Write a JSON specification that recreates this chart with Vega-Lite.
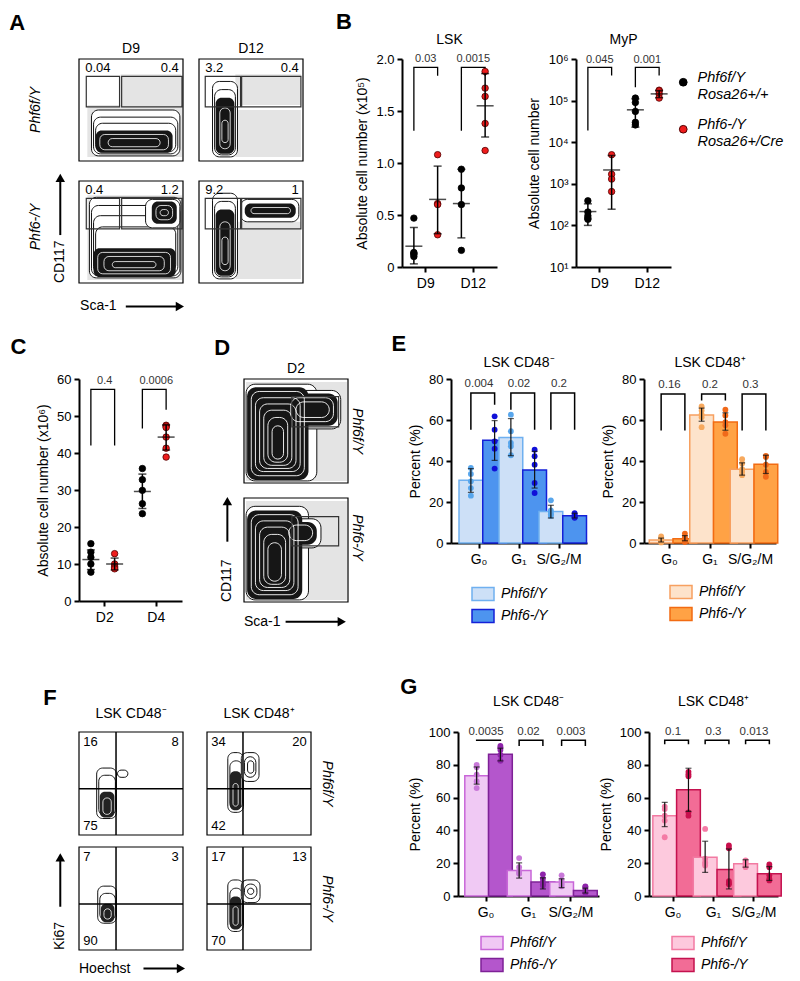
{
"$schema": "https://vega.github.io/schema/vega-lite/v6.json",
"background": "white",
"padding": {"left": 6, "top": 11, "right": 2, "bottom": 2},
"config": {
  "font": "Liberation Sans",
  "view": {"stroke": null},
  "axis": {"grid": false, "domainColor": "#000", "tickColor": "#000", "labelColor": "#000", "titleColor": "#000", "domainWidth": 2, "tickWidth": 2, "tickSize": 5, "labelFontSize": 13, "titleFontSize": 14, "titleFontWeight": "normal", "labelPadding": 3, "titlePadding": 6},
  "legend": {"labelColor": "#000", "padding": 0},
  "header": {"labelFontSize": 14, "labelColor": "#000"},
  "title": {"color": "#000"}
},
"spacing": 46,
"resolve": {"scale": {"fill": "independent", "stroke": "independent", "color": "independent"}, "legend": {"fill": "independent", "stroke": "independent", "color": "independent"}},
"vconcat": [
{
"spacing": 19,
"resolve": {"scale": {"fill": "independent", "stroke": "independent", "color": "independent"}, "legend": {"fill": "independent", "stroke": "independent", "color": "independent"}},
"vconcat": [
{
"spacing": 31,
"align": "none",
"resolve": {"scale": {"fill": "independent", "stroke": "independent", "color": "independent"}, "legend": {"fill": "independent", "stroke": "independent", "color": "independent"}},
"concat": [
{
  "title": {"text": "A", "fontSize": 22, "fontWeight": "bold", "anchor": "start", "frame": "bounds", "baseline": "alphabetic", "offset": -10, "dx": -20},
  "data": {"values": [
    {"r":"1","c":"D9","k":"frame","x":0,"x2":100,"y":0,"y2":100},
    {"r":"1","c":"D9","k":"cloud","x":8,"x2":99,"y":4,"y2":55},
    {"r":"1","c":"D9","k":"cloud","x":40,"x2":98,"y":55,"y2":85},
    {"r":"1","c":"D9","k":"ring","x":12,"x2":97,"y":5,"y2":50},
    {"r":"1","c":"D9","k":"ring","x":14,"x2":95,"y":7,"y2":43},
    {"r":"1","c":"D9","k":"ring","x":16,"x2":93,"y":9,"y2":37},
    {"r":"1","c":"D9","k":"core","x":16,"x2":90,"y":8,"y2":30},
    {"r":"1","c":"D9","k":"wring","x":20,"x2":86,"y":11,"y2":26},
    {"r":"1","c":"D9","k":"wring","x":28,"x2":78,"y":14,"y2":22},
    {"r":"1","c":"D9","k":"gate","x":7,"x2":39,"y":53,"y2":83},
    {"r":"1","c":"D9","k":"gate","x":41,"x2":99,"y":53,"y2":83},
    {"r":"1","c":"D9","k":"numL","x":6,"y":91,"t":"0.04"},
    {"r":"1","c":"D9","k":"numR","x":96,"y":91,"t":"0.4"},
    {"r":"1","c":"D9","k":"rlabL","x":-41,"y":50,"t":"Phf6f/Y"},
    {"r":"1","c":"D12","k":"frame","x":0,"x2":100,"y":0,"y2":100},
    {"r":"1","c":"D12","k":"cloud","x":35,"x2":98,"y":55,"y2":85},
    {"r":"1","c":"D12","k":"cloud","x":35,"x2":98,"y":4,"y2":50},
    {"r":"1","c":"D12","k":"ring","x":13,"x2":37,"y":4,"y2":78},
    {"r":"1","c":"D12","k":"ring","x":15,"x2":35,"y":6,"y2":70},
    {"r":"1","c":"D12","k":"core","x":16,"x2":34,"y":7,"y2":62},
    {"r":"1","c":"D12","k":"wring","x":20,"x2":30,"y":12,"y2":52},
    {"r":"1","c":"D12","k":"wring","x":22,"x2":28,"y":18,"y2":40},
    {"r":"1","c":"D12","k":"gate","x":6,"x2":40,"y":53,"y2":83},
    {"r":"1","c":"D12","k":"gate","x":41,"x2":98,"y":53,"y2":83},
    {"r":"1","c":"D12","k":"numL","x":6,"y":91,"t":"3.2"},
    {"r":"1","c":"D12","k":"numR","x":96,"y":91,"t":"0.4"},
    {"r":"2","c":"D9","k":"frame","x":0,"x2":100,"y":0,"y2":100},
    {"r":"2","c":"D9","k":"cloud","x":8,"x2":99,"y":3,"y2":86},
    {"r":"2","c":"D9","k":"ring","x":10,"x2":98,"y":5,"y2":84},
    {"r":"2","c":"D9","k":"ring","x":12,"x2":97,"y":7,"y2":76},
    {"r":"2","c":"D9","k":"ring","x":14,"x2":95,"y":9,"y2":66},
    {"r":"2","c":"D9","k":"ring","x":16,"x2":93,"y":11,"y2":55},
    {"r":"2","c":"D9","k":"ring","x":64,"x2":97,"y":54,"y2":82},
    {"r":"2","c":"D9","k":"core","x":14,"x2":93,"y":6,"y2":34},
    {"r":"2","c":"D9","k":"core","x":70,"x2":94,"y":58,"y2":80},
    {"r":"2","c":"D9","k":"wring","x":18,"x2":88,"y":9,"y2":30},
    {"r":"2","c":"D9","k":"wring","x":24,"x2":82,"y":12,"y2":26},
    {"r":"2","c":"D9","k":"wring","x":32,"x2":74,"y":15,"y2":21},
    {"r":"2","c":"D9","k":"wring","x":74,"x2":90,"y":62,"y2":76},
    {"r":"2","c":"D9","k":"wring","x":78,"x2":86,"y":66,"y2":72},
    {"r":"2","c":"D9","k":"gate","x":7,"x2":39,"y":53,"y2":83},
    {"r":"2","c":"D9","k":"gate","x":41,"x2":99,"y":53,"y2":83},
    {"r":"2","c":"D9","k":"numL","x":6,"y":91,"t":"0.4"},
    {"r":"2","c":"D9","k":"numR","x":96,"y":91,"t":"1.2"},
    {"r":"2","c":"D9","k":"rlabL","x":-41,"y":55,"t":"Phf6-/Y"},
    {"r":"2","c":"D9","k":"ylab","x":-18,"y":0,"t":"CD117"},
    {"r":"2","c":"D9","k":"arrow","x":-18,"x2":-18,"y":47,"y2":100},
    {"r":"2","c":"D9","k":"headU","x":-18,"y":103},
    {"r":"2","c":"D9","k":"xlab","x":1,"y":-23,"t":"Sca-1"},
    {"r":"2","c":"D9","k":"arrow","x":45,"x2":95,"y":-23,"y2":-23},
    {"r":"2","c":"D9","k":"headR","x":97,"y":-23},
    {"r":"2","c":"D12","k":"frame","x":0,"x2":100,"y":0,"y2":100},
    {"r":"2","c":"D12","k":"cloud","x":35,"x2":98,"y":4,"y2":60},
    {"r":"2","c":"D12","k":"ring","x":13,"x2":37,"y":4,"y2":88},
    {"r":"2","c":"D12","k":"ring","x":15,"x2":35,"y":6,"y2":80},
    {"r":"2","c":"D12","k":"ring","x":40,"x2":96,"y":60,"y2":82},
    {"r":"2","c":"D12","k":"core","x":16,"x2":34,"y":7,"y2":72},
    {"r":"2","c":"D12","k":"core","x":44,"x2":93,"y":64,"y2":78},
    {"r":"2","c":"D12","k":"wring","x":20,"x2":30,"y":12,"y2":60},
    {"r":"2","c":"D12","k":"wring","x":22,"x2":28,"y":18,"y2":45},
    {"r":"2","c":"D12","k":"wring","x":50,"x2":88,"y":68,"y2":74},
    {"r":"2","c":"D12","k":"gate","x":6,"x2":40,"y":53,"y2":83},
    {"r":"2","c":"D12","k":"gate","x":41,"x2":98,"y":53,"y2":83},
    {"r":"2","c":"D12","k":"numL","x":6,"y":91,"t":"9.2"},
    {"r":"2","c":"D12","k":"numR","x":96,"y":91,"t":"1"}
  ]},
  "facet": {
    "column": {"field": "c", "type": "nominal", "sort": ["D9", "D12"], "title": null, "header": {"labelPadding": 3, "labelFontSize": 14}},
    "row": {"field": "r", "type": "nominal", "sort": ["1", "2"], "title": null, "header": null}
  },
  "spacing": {"row": 20, "column": 16},
  "bounds": "flush",
  "resolve": {"axis": {"x": "independent", "y": "independent"}},
  "spec": {
    "width": 104, "height": 102,
    "layer": [
      {"transform":[{"filter":"datum.k=='cloud'"}],"mark":{"type":"rect","fill":"#c4c4c4","opacity":0.45},"encoding":{"x":{"field":"x","type":"quantitative","scale":{"domain":[0,100],"nice":false,"zero":false},"axis":null},"x2":{"field":"x2"},"y":{"field":"y","type":"quantitative","scale":{"domain":[0,100],"nice":false,"zero":false},"axis":null},"y2":{"field":"y2"}}},
      {"transform":[{"filter":"datum.k=='ring'"}],"mark":{"type":"rect","fill":"#ffffff","stroke":"#111111","strokeWidth":1,"cornerRadius":7},"encoding":{"x":{"field":"x","type":"quantitative","axis":null},"x2":{"field":"x2"},"y":{"field":"y","type":"quantitative","axis":null},"y2":{"field":"y2"}}},
      {"transform":[{"filter":"datum.k=='core'"}],"mark":{"type":"rect","fill":"#161616","cornerRadius":6},"encoding":{"x":{"field":"x","type":"quantitative","axis":null},"x2":{"field":"x2"},"y":{"field":"y","type":"quantitative","axis":null},"y2":{"field":"y2"}}},
      {"transform":[{"filter":"datum.k=='wring'"}],"mark":{"type":"rect","fill":"transparent","stroke":"#ffffff","strokeWidth":0.8,"cornerRadius":5},"encoding":{"x":{"field":"x","type":"quantitative","axis":null},"x2":{"field":"x2"},"y":{"field":"y","type":"quantitative","axis":null},"y2":{"field":"y2"}}},
      {"transform":[{"filter":"datum.k=='gate'"}],"mark":{"type":"rect","fill":"transparent","stroke":"#333333","strokeWidth":1.2},"encoding":{"x":{"field":"x","type":"quantitative","axis":null},"x2":{"field":"x2"},"y":{"field":"y","type":"quantitative","axis":null},"y2":{"field":"y2"}}},
      {"transform":[{"filter":"datum.k=='frame'"}],"mark":{"type":"rect","fill":"transparent","stroke":"#000000","strokeWidth":1.2},"encoding":{"x":{"field":"x","type":"quantitative","scale":{"domain":[0,100],"nice":false,"zero":false},"axis":{"labels":false,"domain":false,"ticks":true,"tickSize":3,"tickWidth":1,"tickCount":6,"title":null,"grid":false,"tickColor":"#333"}},"x2":{"field":"x2"},"y":{"field":"y","type":"quantitative","scale":{"domain":[0,100],"nice":false,"zero":false},"axis":{"labels":false,"domain":false,"ticks":true,"tickSize":3,"tickWidth":1,"tickCount":6,"title":null,"grid":false,"tickColor":"#333"}},"y2":{"field":"y2"}}},
      {"transform":[{"filter":"datum.k=='numL'"}],"mark":{"type":"text","align":"left","baseline":"middle","fontSize":13},"encoding":{"x":{"field":"x","type":"quantitative","axis":null},"y":{"field":"y","type":"quantitative","axis":null},"text":{"field":"t"}}},
      {"transform":[{"filter":"datum.k=='numR'"}],"mark":{"type":"text","align":"right","baseline":"middle","fontSize":13},"encoding":{"x":{"field":"x","type":"quantitative","axis":null},"y":{"field":"y","type":"quantitative","axis":null},"text":{"field":"t"}}},
      {"transform":[{"filter":"datum.k=='rlabL'"}],"mark":{"type":"text","angle":270,"align":"center","baseline":"middle","fontSize":14,"fontStyle":"italic"},"encoding":{"x":{"field":"x","type":"quantitative","axis":null},"y":{"field":"y","type":"quantitative","axis":null},"text":{"field":"t"}}},
      {"transform":[{"filter":"datum.k=='ylab'"}],"mark":{"type":"text","angle":270,"align":"left","baseline":"middle","fontSize":14},"encoding":{"x":{"field":"x","type":"quantitative","axis":null},"y":{"field":"y","type":"quantitative","axis":null},"text":{"field":"t"}}},
      {"transform":[{"filter":"datum.k=='xlab'"}],"mark":{"type":"text","align":"left","baseline":"middle","fontSize":14},"encoding":{"x":{"field":"x","type":"quantitative","axis":null},"y":{"field":"y","type":"quantitative","axis":null},"text":{"field":"t"}}},
      {"transform":[{"filter":"datum.k=='arrow'"}],"mark":{"type":"rule","color":"#000","strokeWidth":2},"encoding":{"x":{"field":"x","type":"quantitative","axis":null},"x2":{"field":"x2"},"y":{"field":"y","type":"quantitative","axis":null},"y2":{"field":"y2"}}},
      {"transform":[{"filter":"datum.k=='headU'"}],"mark":{"type":"point","shape":"triangle-up","filled":true,"color":"#000","size":90,"opacity":1},"encoding":{"x":{"field":"x","type":"quantitative","axis":null},"y":{"field":"y","type":"quantitative","axis":null}}},
      {"transform":[{"filter":"datum.k=='headR'"}],"mark":{"type":"point","shape":"triangle-right","filled":true,"color":"#000","size":90,"opacity":1},"encoding":{"x":{"field":"x","type":"quantitative","axis":null},"y":{"field":"y","type":"quantitative","axis":null}}}
    ]
  }
},
{
  "title": {"text": "B", "fontSize": 22, "fontWeight": "bold", "anchor": "start", "frame": "bounds", "baseline": "alphabetic", "offset": -18, "dx": -20},
  "spacing": 30,
  "resolve": {"scale": {"fill": "independent", "stroke": "independent", "color": "independent"}, "legend": {"fill": "independent", "stroke": "independent", "color": "independent"}},
  "hconcat": [
  {
    "width": 95, "height": 208,
    "title": {"text": "LSK", "fontSize": 14, "fontWeight": "normal", "anchor": "middle", "frame": "group", "baseline": "alphabetic", "offset": -5},
    "encoding": {
      "x": {"field": "day", "type": "nominal", "sort": ["D9", "D12"], "scale": {"paddingInner": 0, "paddingOuter": 0}, "axis": {"title": null, "labelAngle": 0, "labelFontSize": 14, "labelPadding": 4}},
      "y": {"field": "v", "type": "quantitative", "scale": {"domain": [0, 2], "nice": false, "zero": false}, "axis": {"values": [0, 0.5, 1, 1.5, 2], "labelExpr": "datum.value == 0 ? '0' : format(datum.value, '.1f')", "title": "Absolute cell number (x10⁵)"}}
    },
    "layer": [
      {"data": {"values": [
        {"day":"D9","g":"f","v":1.31,"o":1},{"day":"D9","g":"f","v":1.92,"o":2},{"day":"D9","g":"m","v":1.92,"o":3},{"day":"D9","g":"m","v":1.84,"o":4},
        {"day":"D12","g":"f","v":1.31,"o":1},{"day":"D12","g":"f","v":1.92,"o":2},{"day":"D12","g":"m","v":1.92,"o":3},{"day":"D12","g":"m","v":1.84,"o":4}]},
       "mark": {"type": "line", "color": "#000", "strokeWidth": 1.3},
       "encoding": {"xOffset": {"field": "g", "type": "nominal", "sort": ["f", "m"], "scale": {"paddingInner": 0, "paddingOuter": 0}}, "detail": {"field": "day"}, "order": {"field": "o"}}},
      {"data": {"values": [
        {"day":"D9","g":"f","v":0.47},{"day":"D9","g":"f","v":0.14},{"day":"D9","g":"f","v":0.13},{"day":"D9","g":"f","v":0.10},{"day":"D9","g":"f","v":0.12},
        {"day":"D9","g":"m","v":1.08},{"day":"D9","g":"m","v":0.61},{"day":"D9","g":"m","v":0.60},{"day":"D9","g":"m","v":0.31},
        {"day":"D12","g":"f","v":0.94},{"day":"D12","g":"f","v":0.76},{"day":"D12","g":"f","v":0.60},{"day":"D12","g":"f","v":0.16},
        {"day":"D12","g":"m","v":1.88},{"day":"D12","g":"m","v":1.72},{"day":"D12","g":"m","v":1.64},{"day":"D12","g":"m","v":1.38},{"day":"D12","g":"m","v":1.12}]},
       "mark": {"type": "point", "filled": true, "size": 42, "opacity": 1, "strokeWidth": 0.8},
       "encoding": {"xOffset": {"field": "g", "type": "nominal", "sort": ["f", "m"]},
         "fill": {"field": "g", "type": "nominal", "scale": {"domain": ["f", "m"], "range": ["#000000", "#ee1c1c"]}, "legend": null},
         "stroke": {"field": "g", "type": "nominal", "scale": {"domain": ["f", "m"], "range": ["#000000", "#500000"]}, "legend": null}}},
      {"data": {"values": [{"day":"D9","g":"f","m":0.2,"lo":0.03,"hi":0.38},{"day":"D9","g":"m","m":0.65,"lo":0.32,"hi":0.97},{"day":"D12","g":"f","m":0.61,"lo":0.28,"hi":0.94},{"day":"D12","g":"m","m":1.55,"lo":1.25,"hi":1.86}]},
       "layer": [
         {"mark": {"type": "rule", "color": "#000", "strokeWidth": 1.5}, "encoding": {"xOffset": {"field": "g", "type": "nominal", "sort": ["f", "m"]}, "y": {"field": "lo", "type": "quantitative"}, "y2": {"field": "hi"}}},
         {"mark": {"type": "tick", "color": "#000", "size": 8, "thickness": 1.5}, "encoding": {"xOffset": {"field": "g", "type": "nominal", "sort": ["f", "m"]}, "y": {"field": "lo", "type": "quantitative"}}},
         {"mark": {"type": "tick", "color": "#000", "size": 8, "thickness": 1.5}, "encoding": {"xOffset": {"field": "g", "type": "nominal", "sort": ["f", "m"]}, "y": {"field": "hi", "type": "quantitative"}}},
         {"mark": {"type": "tick", "color": "#000", "size": 17, "thickness": 1.5}, "encoding": {"xOffset": {"field": "g", "type": "nominal", "sort": ["f", "m"]}, "y": {"field": "m", "type": "quantitative"}}}
       ]},
      {"data": {"values": [{"day":"D9","v":1.93,"t":"0.03"},{"day":"D12","v":1.93,"t":"0.0015"}]},
       "mark": {"type": "text", "fontSize": 11, "color": "#333", "baseline": "bottom", "dy": -2},
       "encoding": {"text": {"field": "t"}}}
    ]
  },
  {
    "width": 95, "height": 208,
    "title": {"text": "MyP", "fontSize": 14, "fontWeight": "normal", "anchor": "middle", "frame": "group", "baseline": "alphabetic", "offset": -5},
    "encoding": {
      "x": {"field": "day", "type": "nominal", "sort": ["D9", "D12"], "scale": {"paddingInner": 0, "paddingOuter": 0}, "axis": {"title": null, "labelAngle": 0, "labelFontSize": 14, "labelPadding": 4}},
      "y": {"field": "v", "type": "quantitative", "scale": {"type": "log", "domain": [10, 1000000], "nice": false}, "axis": {"values": [10, 100, 1000, 10000, 100000, 1000000], "labelExpr": "datum.value == 10 ? '10¹' : datum.value == 100 ? '10²' : datum.value == 1000 ? '10³' : datum.value == 10000 ? '10⁴' : datum.value == 100000 ? '10⁵' : '10⁶'", "title": "Absolute cell number"}}
    },
    "layer": [
      {"data": {"values": [
        {"day":"D9","g":"f","v":19000,"o":1},{"day":"D9","g":"f","v":630000,"o":2},{"day":"D9","g":"m","v":630000,"o":3},{"day":"D9","g":"m","v":400000,"o":4},
        {"day":"D12","g":"f","v":210000,"o":1},{"day":"D12","g":"f","v":630000,"o":2},{"day":"D12","g":"m","v":630000,"o":3},{"day":"D12","g":"m","v":400000,"o":4}]},
       "mark": {"type": "line", "color": "#000", "strokeWidth": 1.3},
       "encoding": {"xOffset": {"field": "g", "type": "nominal", "sort": ["f", "m"], "scale": {"paddingInner": 0, "paddingOuter": 0}}, "detail": {"field": "day"}, "order": {"field": "o"}}},
      {"data": {"values": [
        {"day":"D9","g":"f","v":390},{"day":"D9","g":"f","v":170},{"day":"D9","g":"f","v":150},{"day":"D9","g":"f","v":140},{"day":"D9","g":"f","v":210},
        {"day":"D9","g":"m","v":5000},{"day":"D9","g":"m","v":1700},{"day":"D9","g":"m","v":1300},{"day":"D9","g":"m","v":650},
        {"day":"D12","g":"f","v":115000},{"day":"D12","g":"f","v":90000},{"day":"D12","g":"f","v":55000},{"day":"D12","g":"f","v":30000},{"day":"D12","g":"f","v":26000},
        {"day":"D12","g":"m","v":178000},{"day":"D12","g":"m","v":172000},{"day":"D12","g":"m","v":145000},{"day":"D12","g":"m","v":115000}]},
       "mark": {"type": "point", "filled": true, "size": 42, "opacity": 1, "strokeWidth": 0.8},
       "encoding": {"xOffset": {"field": "g", "type": "nominal", "sort": ["f", "m"]},
         "fill": {"field": "g", "type": "nominal", "scale": {"domain": ["f", "m"], "range": ["#000000", "#ee1c1c"]},
           "legend": {"orient": "none", "legendX": 100, "legendY": 16, "title": null, "labelExpr": "datum.label == 'f' ? ['Phf6f/Y', 'Rosa26+/+'] : ['Phf6-/Y', 'Rosa26+/Cre']", "labelFontSize": 14.5, "labelFontStyle": "italic", "symbolType": "circle", "symbolSize": 60, "labelBaseline": "alphabetic", "rowPadding": 15, "labelOffset": 7, "symbolStrokeWidth": 1, "labelLimit": 200}},
         "stroke": {"field": "g", "type": "nominal", "scale": {"domain": ["f", "m"], "range": ["#000000", "#500000"]},
           "legend": {"orient": "none", "legendX": 100, "legendY": 16, "title": null, "labelExpr": "datum.label == 'f' ? ['Phf6f/Y', 'Rosa26+/+'] : ['Phf6-/Y', 'Rosa26+/Cre']", "labelFontSize": 14.5, "labelFontStyle": "italic", "symbolType": "circle", "symbolSize": 60, "labelBaseline": "alphabetic", "rowPadding": 15, "labelOffset": 7, "symbolStrokeWidth": 1, "labelLimit": 200}}}},
      {"data": {"values": [{"day":"D9","g":"f","m":215,"lo":100,"hi":330},{"day":"D9","g":"m","m":2150,"lo":245,"hi":4800},{"day":"D12","g":"f","m":60000,"lo":23000,"hi":110000},{"day":"D12","g":"m","m":145000,"lo":118000,"hi":175000}]},
       "layer": [
         {"mark": {"type": "rule", "color": "#000", "strokeWidth": 1.5}, "encoding": {"xOffset": {"field": "g", "type": "nominal", "sort": ["f", "m"]}, "y": {"field": "lo", "type": "quantitative"}, "y2": {"field": "hi"}}},
         {"mark": {"type": "tick", "color": "#000", "size": 8, "thickness": 1.5}, "encoding": {"xOffset": {"field": "g", "type": "nominal", "sort": ["f", "m"]}, "y": {"field": "lo", "type": "quantitative"}}},
         {"mark": {"type": "tick", "color": "#000", "size": 8, "thickness": 1.5}, "encoding": {"xOffset": {"field": "g", "type": "nominal", "sort": ["f", "m"]}, "y": {"field": "hi", "type": "quantitative"}}},
         {"mark": {"type": "tick", "color": "#000", "size": 17, "thickness": 1.5}, "encoding": {"xOffset": {"field": "g", "type": "nominal", "sort": ["f", "m"]}, "y": {"field": "m", "type": "quantitative"}}}
       ]},
      {"data": {"values": [{"day":"D9","v":660000,"t":"0.045"},{"day":"D12","v":660000,"t":"0.001"}]},
       "mark": {"type": "text", "fontSize": 11, "color": "#333", "baseline": "bottom", "dy": -2},
       "encoding": {"text": {"field": "t"}}}
    ]
  }
  ]
}
]
},
{
"spacing": 26,
"align": "none",
"resolve": {"scale": {"fill": "independent", "stroke": "independent", "color": "independent"}, "legend": {"fill": "independent", "stroke": "independent", "color": "independent"}},
"concat": [
{
"spacing": 32,
"align": "none",
"resolve": {"scale": {"fill": "independent", "stroke": "independent", "color": "independent"}, "legend": {"fill": "independent", "stroke": "independent", "color": "independent"}},
"concat": [
{
  "width": 103, "height": 222,
  "title": {"text": "C", "fontSize": 22, "fontWeight": "bold", "anchor": "start", "frame": "bounds", "baseline": "alphabetic", "offset": -3, "dx": -26},
  "encoding": {
    "x": {"field": "day", "type": "nominal", "sort": ["D2", "D4"], "scale": {"paddingInner": 0, "paddingOuter": 0}, "axis": {"title": null, "labelAngle": 0, "labelFontSize": 14, "labelPadding": 4}},
    "y": {"field": "v", "type": "quantitative", "scale": {"domain": [0, 60], "nice": false, "zero": false}, "axis": {"values": [0, 10, 20, 30, 40, 50, 60], "title": "Absolute cell number (x10⁶)"}}
  },
  "layer": [
    {"data": {"values": [
      {"day":"D2","g":"f","v":42,"o":1},{"day":"D2","g":"f","v":57.2,"o":2},{"day":"D2","g":"m","v":57.2,"o":3},{"day":"D2","g":"m","v":42,"o":4},
      {"day":"D4","g":"f","v":46.6,"o":1},{"day":"D4","g":"f","v":57.2,"o":2},{"day":"D4","g":"m","v":57.2,"o":3},{"day":"D4","g":"m","v":51.7,"o":4}]},
     "mark": {"type": "line", "color": "#000", "strokeWidth": 1.3},
     "encoding": {"xOffset": {"field": "g", "type": "nominal", "sort": ["f", "m"], "scale": {"paddingInner": 0, "paddingOuter": 0}}, "detail": {"field": "day"}, "order": {"field": "o"}}},
    {"data": {"values": [
      {"day":"D2","g":"f","v":15.5},{"day":"D2","g":"f","v":13.2},{"day":"D2","g":"f","v":11.8},{"day":"D2","g":"f","v":10.0},{"day":"D2","g":"f","v":7.8},
      {"day":"D2","g":"m","v":12.8},{"day":"D2","g":"m","v":10.0},{"day":"D2","g":"m","v":9.4},{"day":"D2","g":"m","v":9.0},{"day":"D2","g":"m","v":8.7},
      {"day":"D4","g":"f","v":35.8},{"day":"D4","g":"f","v":32.8},{"day":"D4","g":"f","v":29.9},{"day":"D4","g":"f","v":26.3},{"day":"D4","g":"f","v":23.6},
      {"day":"D4","g":"m","v":47.5},{"day":"D4","g":"m","v":47.3},{"day":"D4","g":"m","v":46.9},{"day":"D4","g":"m","v":44.3},{"day":"D4","g":"m","v":41.3},{"day":"D4","g":"m","v":38.9}]},
     "mark": {"type": "point", "filled": true, "size": 42, "opacity": 1, "strokeWidth": 0.8},
     "encoding": {"xOffset": {"field": "g", "type": "nominal", "sort": ["f", "m"]},
       "fill": {"field": "g", "type": "nominal", "scale": {"domain": ["f", "m"], "range": ["#000000", "#ee1c1c"]}, "legend": null},
       "stroke": {"field": "g", "type": "nominal", "scale": {"domain": ["f", "m"], "range": ["#000000", "#500000"]}, "legend": null}}},
    {"data": {"values": [{"day":"D2","g":"f","m":11.2,"lo":8.5,"hi":13.8},{"day":"D2","g":"m","m":10.0,"lo":8.4,"hi":11.6},{"day":"D4","g":"f","m":29.6,"lo":25.0,"hi":34.3},{"day":"D4","g":"m","m":44.3,"lo":40.8,"hi":47.6}]},
     "layer": [
       {"mark": {"type": "rule", "color": "#000", "strokeWidth": 1.5}, "encoding": {"xOffset": {"field": "g", "type": "nominal", "sort": ["f", "m"]}, "y": {"field": "lo", "type": "quantitative"}, "y2": {"field": "hi"}}},
       {"mark": {"type": "tick", "color": "#000", "size": 8, "thickness": 1.5}, "encoding": {"xOffset": {"field": "g", "type": "nominal", "sort": ["f", "m"]}, "y": {"field": "lo", "type": "quantitative"}}},
       {"mark": {"type": "tick", "color": "#000", "size": 8, "thickness": 1.5}, "encoding": {"xOffset": {"field": "g", "type": "nominal", "sort": ["f", "m"]}, "y": {"field": "hi", "type": "quantitative"}}},
       {"mark": {"type": "tick", "color": "#000", "size": 17, "thickness": 1.5}, "encoding": {"xOffset": {"field": "g", "type": "nominal", "sort": ["f", "m"]}, "y": {"field": "m", "type": "quantitative"}}}
     ]},
    {"data": {"values": [{"day":"D2","v":57.6,"t":"0.4"},{"day":"D4","v":57.6,"t":"0.0006"}]},
     "mark": {"type": "text", "fontSize": 11, "color": "#333", "baseline": "bottom", "dy": -2},
     "encoding": {"text": {"field": "t"}}}
  ]
},
{
  "title": {"text": "D", "fontSize": 22, "fontWeight": "bold", "anchor": "start", "frame": "bounds", "baseline": "alphabetic", "offset": -15, "dx": -6},
  "data": {"values": [
    {"r":"1","c":"D2","k":"frame","x":0,"x2":100,"y":0,"y2":100},
    {"r":"1","c":"D2","k":"cloud","x":2,"x2":99,"y":2,"y2":97},
    {"r":"1","c":"D2","k":"ring","x":2,"x2":70,"y":2,"y2":95},
    {"r":"1","c":"D2","k":"ring","x":38,"x2":93,"y":52,"y2":89},
    {"r":"1","c":"D2","k":"core","x":3,"x2":62,"y":3,"y2":92},
    {"r":"1","c":"D2","k":"core","x":40,"x2":90,"y":55,"y2":86},
    {"r":"1","c":"D2","k":"wring","x":7,"x2":58,"y":7,"y2":88},
    {"r":"1","c":"D2","k":"wring","x":11,"x2":54,"y":11,"y2":82},
    {"r":"1","c":"D2","k":"wring","x":15,"x2":50,"y":14,"y2":76},
    {"r":"1","c":"D2","k":"wring","x":19,"x2":46,"y":17,"y2":70},
    {"r":"1","c":"D2","k":"wring","x":23,"x2":42,"y":20,"y2":63},
    {"r":"1","c":"D2","k":"wring","x":27,"x2":38,"y":23,"y2":55},
    {"r":"1","c":"D2","k":"wring","x":45,"x2":86,"y":59,"y2":82},
    {"r":"1","c":"D2","k":"wring","x":50,"x2":82,"y":63,"y2":78},
    {"r":"1","c":"D2","k":"gate","x":46,"x2":91,"y":54,"y2":83},
    {"r":"1","c":"D2","k":"rlabR","x":109,"y":50,"t":"Phf6f/Y"},
    {"r":"2","c":"D2","k":"frame","x":0,"x2":100,"y":0,"y2":100},
    {"r":"2","c":"D2","k":"cloud","x":2,"x2":99,"y":2,"y2":97},
    {"r":"2","c":"D2","k":"ring","x":2,"x2":62,"y":2,"y2":92},
    {"r":"2","c":"D2","k":"ring","x":36,"x2":74,"y":52,"y2":80},
    {"r":"2","c":"D2","k":"core","x":3,"x2":56,"y":3,"y2":88},
    {"r":"2","c":"D2","k":"core","x":38,"x2":70,"y":55,"y2":77},
    {"r":"2","c":"D2","k":"wring","x":7,"x2":52,"y":7,"y2":84},
    {"r":"2","c":"D2","k":"wring","x":11,"x2":48,"y":11,"y2":78},
    {"r":"2","c":"D2","k":"wring","x":15,"x2":44,"y":14,"y2":72},
    {"r":"2","c":"D2","k":"wring","x":19,"x2":40,"y":17,"y2":65},
    {"r":"2","c":"D2","k":"wring","x":23,"x2":36,"y":20,"y2":57},
    {"r":"2","c":"D2","k":"wring","x":43,"x2":66,"y":59,"y2":74},
    {"r":"2","c":"D2","k":"gate","x":46,"x2":91,"y":54,"y2":82},
    {"r":"2","c":"D2","k":"rlabR","x":109,"y":62,"t":"Phf6-/Y"},
    {"r":"2","c":"D2","k":"ylab","x":-16,"y":0,"t":"CD117"},
    {"r":"2","c":"D2","k":"arrow","x":-16,"x2":-16,"y":58,"y2":95},
    {"r":"2","c":"D2","k":"headU","x":-16,"y":97},
    {"r":"2","c":"D2","k":"xlab","x":0,"y":-19,"t":"Sca-1"},
    {"r":"2","c":"D2","k":"arrow","x":40,"x2":92,"y":-19,"y2":-19},
    {"r":"2","c":"D2","k":"headR","x":94,"y":-19}
  ]},
  "facet": {
    "column": {"field": "c", "type": "nominal", "title": null, "header": {"labelPadding": 3, "labelFontSize": 14}},
    "row": {"field": "r", "type": "nominal", "sort": ["1", "2"], "title": null, "header": null}
  },
  "spacing": {"row": 15, "column": 16},
  "bounds": "flush",
  "resolve": {"axis": {"x": "independent", "y": "independent"}},
  "spec": {
    "width": 104, "height": 104,
    "layer": [
      {"transform":[{"filter":"datum.k=='cloud'"}],"mark":{"type":"rect","fill":"#c4c4c4","opacity":0.45},"encoding":{"x":{"field":"x","type":"quantitative","scale":{"domain":[0,100],"nice":false,"zero":false},"axis":null},"x2":{"field":"x2"},"y":{"field":"y","type":"quantitative","scale":{"domain":[0,100],"nice":false,"zero":false},"axis":null},"y2":{"field":"y2"}}},
      {"transform":[{"filter":"datum.k=='ring'"}],"mark":{"type":"rect","fill":"#ffffff","stroke":"#111111","strokeWidth":1,"cornerRadius":9},"encoding":{"x":{"field":"x","type":"quantitative","axis":null},"x2":{"field":"x2"},"y":{"field":"y","type":"quantitative","axis":null},"y2":{"field":"y2"}}},
      {"transform":[{"filter":"datum.k=='core'"}],"mark":{"type":"rect","fill":"#161616","cornerRadius":9},"encoding":{"x":{"field":"x","type":"quantitative","axis":null},"x2":{"field":"x2"},"y":{"field":"y","type":"quantitative","axis":null},"y2":{"field":"y2"}}},
      {"transform":[{"filter":"datum.k=='wring'"}],"mark":{"type":"rect","fill":"transparent","stroke":"#ffffff","strokeWidth":0.9,"cornerRadius":8},"encoding":{"x":{"field":"x","type":"quantitative","axis":null},"x2":{"field":"x2"},"y":{"field":"y","type":"quantitative","axis":null},"y2":{"field":"y2"}}},
      {"transform":[{"filter":"datum.k=='gate'"}],"mark":{"type":"rect","fill":"transparent","stroke":"#333333","strokeWidth":1.2},"encoding":{"x":{"field":"x","type":"quantitative","axis":null},"x2":{"field":"x2"},"y":{"field":"y","type":"quantitative","axis":null},"y2":{"field":"y2"}}},
      {"transform":[{"filter":"datum.k=='frame'"}],"mark":{"type":"rect","fill":"transparent","stroke":"#000000","strokeWidth":1.2},"encoding":{"x":{"field":"x","type":"quantitative","scale":{"domain":[0,100],"nice":false,"zero":false},"axis":{"labels":false,"domain":false,"ticks":true,"tickSize":3,"tickWidth":1,"tickCount":6,"title":null,"grid":false,"tickColor":"#333"}},"x2":{"field":"x2"},"y":{"field":"y","type":"quantitative","scale":{"domain":[0,100],"nice":false,"zero":false},"axis":{"labels":false,"domain":false,"ticks":true,"tickSize":3,"tickWidth":1,"tickCount":6,"title":null,"grid":false,"tickColor":"#333"}},"y2":{"field":"y2"}}},
      {"transform":[{"filter":"datum.k=='rlabR'"}],"mark":{"type":"text","angle":90,"align":"center","baseline":"middle","fontSize":14,"fontStyle":"italic"},"encoding":{"x":{"field":"x","type":"quantitative","axis":null},"y":{"field":"y","type":"quantitative","axis":null},"text":{"field":"t"}}},
      {"transform":[{"filter":"datum.k=='ylab'"}],"mark":{"type":"text","angle":270,"align":"left","baseline":"middle","fontSize":14},"encoding":{"x":{"field":"x","type":"quantitative","axis":null},"y":{"field":"y","type":"quantitative","axis":null},"text":{"field":"t"}}},
      {"transform":[{"filter":"datum.k=='xlab'"}],"mark":{"type":"text","align":"left","baseline":"middle","fontSize":14},"encoding":{"x":{"field":"x","type":"quantitative","axis":null},"y":{"field":"y","type":"quantitative","axis":null},"text":{"field":"t"}}},
      {"transform":[{"filter":"datum.k=='arrow'"}],"mark":{"type":"rule","color":"#000","strokeWidth":2},"encoding":{"x":{"field":"x","type":"quantitative","axis":null},"x2":{"field":"x2"},"y":{"field":"y","type":"quantitative","axis":null},"y2":{"field":"y2"}}},
      {"transform":[{"filter":"datum.k=='headU'"}],"mark":{"type":"point","shape":"triangle-up","filled":true,"color":"#000","size":90,"opacity":1},"encoding":{"x":{"field":"x","type":"quantitative","axis":null},"y":{"field":"y","type":"quantitative","axis":null}}},
      {"transform":[{"filter":"datum.k=='headR'"}],"mark":{"type":"point","shape":"triangle-right","filled":true,"color":"#000","size":90,"opacity":1},"encoding":{"x":{"field":"x","type":"quantitative","axis":null},"y":{"field":"y","type":"quantitative","axis":null}}}
    ]
  }
}
]
},
{
  "title": {"text": "E", "fontSize": 22, "fontWeight": "bold", "anchor": "start", "frame": "bounds", "baseline": "alphabetic", "offset": -17, "dx": -17},
  "spacing": 13,
  "resolve": {"scale": {"fill": "independent", "stroke": "independent", "color": "independent"}, "legend": {"fill": "independent", "stroke": "independent", "color": "independent"}},
  "hconcat": [
  {
    "width": 136, "height": 164,
    "title": {"text": "LSK CD48⁻", "fontSize": 14, "fontWeight": "normal", "anchor": "middle", "frame": "group", "baseline": "alphabetic", "offset": -8},
    "encoding": {
      "x": {"field": "p", "type": "nominal", "sort": ["G₀", "G₁", "S/G₂/M"], "scale": {"paddingInner": 0, "paddingOuter": 0.2}, "axis": {"title": null, "labelAngle": 0, "labelFontSize": 14, "labelPadding": 4}},
      "y": {"field": "v", "type": "quantitative", "scale": {"domain": [0, 80], "nice": false}, "axis": {"values": [0, 20, 40, 60, 80], "title": "Percent (%)"}}
    },
    "layer": [
      {"data": {"values": [{"p":"G₀","g":"f","m":30.6},{"p":"G₀","g":"m","m":50.1},{"p":"G₁","g":"f","m":51.5},{"p":"G₁","g":"m","m":35.6},{"p":"S/G₂/M","g":"f","m":15.4},{"p":"S/G₂/M","g":"m","m":13.3}]},
       "mark": {"type": "bar", "strokeWidth": 1.5},
       "encoding": {"xOffset": {"field": "g", "type": "nominal", "sort": ["f", "m"], "scale": {"paddingInner": 0.3, "paddingOuter": 0.15}}, "y": {"field": "m", "type": "quantitative"},
         "fill": {"field": "g", "type": "nominal", "scale": {"domain": ["f", "m"], "range": ["#cde0f7", "#4d94ef"]}, "legend": {"orient": "none", "legendX": 20, "legendY": 203, "title": null, "direction": "vertical", "symbolType": "M-1,-0.6H1V0.6H-1Z", "symbolSize": 484, "symbolStrokeWidth": 1.5, "labelExpr": "datum.label == 'f' ? 'Phf6f/Y' : 'Phf6-/Y'", "labelFontSize": 14, "labelFontStyle": "italic", "rowPadding": 0, "labelOffset": 6}},
         "stroke": {"field": "g", "type": "nominal", "scale": {"domain": ["f", "m"], "range": ["#6fb0f0", "#1420d8"]}, "legend": {"orient": "none", "legendX": 20, "legendY": 203, "title": null, "direction": "vertical", "symbolType": "M-1,-0.6H1V0.6H-1Z", "symbolSize": 484, "symbolStrokeWidth": 1.5, "labelExpr": "datum.label == 'f' ? 'Phf6f/Y' : 'Phf6-/Y'", "labelFontSize": 14, "labelFontStyle": "italic", "rowPadding": 0, "labelOffset": 6}}}},
      {"data": {"values": [
        {"p":"G₀","g":"f","v":36.6},{"p":"G₀","g":"f","v":33.7},{"p":"G₀","g":"f","v":30.1},{"p":"G₀","g":"f","v":26.8},{"p":"G₀","g":"f","v":23.1},
        {"p":"G₀","g":"m","v":61.8},{"p":"G₀","g":"m","v":55.3},{"p":"G₀","g":"m","v":49.6},{"p":"G₀","g":"m","v":46.0},{"p":"G₀","g":"m","v":36.3},
        {"p":"G₁","g":"f","v":62.6},{"p":"G₁","g":"f","v":54.5},{"p":"G₁","g":"f","v":48.8},{"p":"G₁","g":"f","v":47.2},{"p":"G₁","g":"f","v":42.8},
        {"p":"G₁","g":"m","v":45.5},{"p":"G₁","g":"m","v":42.3},{"p":"G₁","g":"m","v":38.2},{"p":"G₁","g":"m","v":29.3},{"p":"G₁","g":"m","v":24.4},
        {"p":"S/G₂/M","g":"f","v":20.8},{"p":"S/G₂/M","g":"f","v":15.9},{"p":"S/G₂/M","g":"f","v":14.6},{"p":"S/G₂/M","g":"f","v":14.0},{"p":"S/G₂/M","g":"f","v":13.2},
        {"p":"S/G₂/M","g":"m","v":14.6},{"p":"S/G₂/M","g":"m","v":13.8},{"p":"S/G₂/M","g":"m","v":13.2},{"p":"S/G₂/M","g":"m","v":12.8},{"p":"S/G₂/M","g":"m","v":12.3}]},
       "mark": {"type": "point", "filled": true, "size": 34, "opacity": 1},
       "encoding": {"xOffset": {"field": "g", "type": "nominal", "sort": ["f", "m"]}, "color": {"field": "g", "type": "nominal", "scale": {"domain": ["f", "m"], "range": ["#58a6ec", "#1010d8"]}, "legend": null}}},
      {"data": {"values": [{"p":"G₀","g":"f","lo":24.7,"hi":36.3},{"p":"G₀","g":"m","lo":40.3,"hi":59.7},{"p":"G₁","g":"f","lo":42.6,"hi":60.7},{"p":"G₁","g":"m","lo":26.8,"hi":44.7},{"p":"S/G₂/M","g":"f","lo":12.2,"hi":18.4},{"p":"S/G₂/M","g":"m","lo":12.2,"hi":14.5}]},
       "layer": [
         {"mark": {"type": "rule", "color": "#111", "strokeWidth": 1.2}, "encoding": {"xOffset": {"field": "g", "type": "nominal", "sort": ["f", "m"]}, "y": {"field": "lo", "type": "quantitative"}, "y2": {"field": "hi"}}},
         {"mark": {"type": "tick", "color": "#111", "size": 6, "thickness": 1.2}, "encoding": {"xOffset": {"field": "g", "type": "nominal", "sort": ["f", "m"]}, "y": {"field": "lo", "type": "quantitative"}}},
         {"mark": {"type": "tick", "color": "#111", "size": 6, "thickness": 1.2}, "encoding": {"xOffset": {"field": "g", "type": "nominal", "sort": ["f", "m"]}, "y": {"field": "hi", "type": "quantitative"}}}
       ]},
      {"data": {"values": [
        {"p":"G₀","g":"f","v":55.3,"o":1},{"p":"G₀","g":"f","v":73.2,"o":2},{"p":"G₀","g":"m","v":73.2,"o":3},{"p":"G₀","g":"m","v":67.5,"o":4},
        {"p":"G₁","g":"f","v":65,"o":1},{"p":"G₁","g":"f","v":73.2,"o":2},{"p":"G₁","g":"m","v":73.2,"o":3},{"p":"G₁","g":"m","v":55.3,"o":4},
        {"p":"S/G₂/M","g":"f","v":55.3,"o":1},{"p":"S/G₂/M","g":"f","v":73.2,"o":2},{"p":"S/G₂/M","g":"m","v":73.2,"o":3},{"p":"S/G₂/M","g":"m","v":55.3,"o":4}]},
       "mark": {"type": "line", "color": "#000", "strokeWidth": 1.5},
       "encoding": {"xOffset": {"field": "g", "type": "nominal", "sort": ["f", "m"]}, "detail": {"field": "p"}, "order": {"field": "o"}}},
      {"data": {"values": [{"p":"G₀","v":74,"t":"0.004"},{"p":"G₁","v":74,"t":"0.02"},{"p":"S/G₂/M","v":74,"t":"0.2"}]},
       "mark": {"type": "text", "fontSize": 11.5, "color": "#333", "baseline": "bottom", "dy": -2},
       "encoding": {"text": {"field": "t"}}}
    ]
  },
  {
    "width": 132, "height": 164,
    "title": {"text": "LSK CD48⁺", "fontSize": 14, "fontWeight": "normal", "anchor": "middle", "frame": "group", "baseline": "alphabetic", "offset": -8},
    "encoding": {
      "x": {"field": "p", "type": "nominal", "sort": ["G₀", "G₁", "S/G₂/M"], "scale": {"paddingInner": 0, "paddingOuter": 0.13}, "axis": {"title": null, "labelAngle": 0, "labelFontSize": 14, "labelPadding": 4}},
      "y": {"field": "v", "type": "quantitative", "scale": {"domain": [0, 80], "nice": false}, "axis": {"values": [0, 20, 40, 60, 80], "title": "Percent (%)"}}
    },
    "layer": [
      {"data": {"values": [{"p":"G₀","g":"f","m":1.5},{"p":"G₀","g":"m","m":2.1},{"p":"G₁","g":"f","m":62.5},{"p":"G₁","g":"m","m":59.0},{"p":"S/G₂/M","g":"f","m":36.0},{"p":"S/G₂/M","g":"m","m":38.4}]},
       "mark": {"type": "bar", "strokeWidth": 1.5},
       "encoding": {"xOffset": {"field": "g", "type": "nominal", "sort": ["f", "m"], "scale": {"paddingInner": 0.3, "paddingOuter": 0.15}}, "y": {"field": "m", "type": "quantitative"},
         "fill": {"field": "g", "type": "nominal", "scale": {"domain": ["f", "m"], "range": ["#fde3cb", "#ffa245"]}, "legend": {"orient": "none", "legendX": 25, "legendY": 201, "title": null, "direction": "vertical", "symbolType": "M-1,-0.6H1V0.6H-1Z", "symbolSize": 484, "symbolStrokeWidth": 1.5, "labelExpr": "datum.label == 'f' ? 'Phf6f/Y' : 'Phf6-/Y'", "labelFontSize": 14, "labelFontStyle": "italic", "rowPadding": 0, "labelOffset": 6}},
         "stroke": {"field": "g", "type": "nominal", "scale": {"domain": ["f", "m"], "range": ["#f7a060", "#f26b12"]}, "legend": {"orient": "none", "legendX": 25, "legendY": 201, "title": null, "direction": "vertical", "symbolType": "M-1,-0.6H1V0.6H-1Z", "symbolSize": 484, "symbolStrokeWidth": 1.5, "labelExpr": "datum.label == 'f' ? 'Phf6f/Y' : 'Phf6-/Y'", "labelFontSize": 14, "labelFontStyle": "italic", "rowPadding": 0, "labelOffset": 6}}}},
      {"data": {"values": [
        {"p":"G₀","g":"f","v":3.2},{"p":"G₀","g":"f","v":2.0},{"p":"G₀","g":"f","v":1.4},{"p":"G₀","g":"f","v":0.8},{"p":"G₀","g":"f","v":0.3},
        {"p":"G₀","g":"m","v":4.6},{"p":"G₀","g":"m","v":2.8},{"p":"G₀","g":"m","v":1.8},{"p":"G₀","g":"m","v":1.0},{"p":"G₀","g":"m","v":0.5},
        {"p":"G₁","g":"f","v":66.6},{"p":"G₁","g":"f","v":64.6},{"p":"G₁","g":"f","v":62.7},{"p":"G₁","g":"f","v":61.4},{"p":"G₁","g":"f","v":56.5},
        {"p":"G₁","g":"m","v":65.0},{"p":"G₁","g":"m","v":62.2},{"p":"G₁","g":"m","v":59.0},{"p":"G₁","g":"m","v":57.4},{"p":"G₁","g":"m","v":53.3},
        {"p":"S/G₂/M","g":"f","v":40.9},{"p":"S/G₂/M","g":"f","v":38.8},{"p":"S/G₂/M","g":"f","v":36.0},{"p":"S/G₂/M","g":"f","v":34.7},{"p":"S/G₂/M","g":"f","v":33.1},
        {"p":"S/G₂/M","g":"m","v":42.5},{"p":"S/G₂/M","g":"m","v":42.0},{"p":"S/G₂/M","g":"m","v":38.2},{"p":"S/G₂/M","g":"m","v":34.7},{"p":"S/G₂/M","g":"m","v":32.3}]},
       "mark": {"type": "point", "filled": true, "size": 34, "opacity": 1},
       "encoding": {"xOffset": {"field": "g", "type": "nominal", "sort": ["f", "m"]}, "color": {"field": "g", "type": "nominal", "scale": {"domain": ["f", "m"], "range": ["#f7a95e", "#f0691a"]}, "legend": null}}},
      {"data": {"values": [{"p":"G₀","g":"f","lo":0.5,"hi":2.4},{"p":"G₀","g":"m","lo":1.1,"hi":3.6},{"p":"G₁","g":"f","lo":59.4,"hi":65.8},{"p":"G₁","g":"m","lo":55.0,"hi":63.5},{"p":"S/G₂/M","g":"f","lo":33.1,"hi":39.1},{"p":"S/G₂/M","g":"m","lo":33.9,"hi":42.8}]},
       "layer": [
         {"mark": {"type": "rule", "color": "#111", "strokeWidth": 1.2}, "encoding": {"xOffset": {"field": "g", "type": "nominal", "sort": ["f", "m"]}, "y": {"field": "lo", "type": "quantitative"}, "y2": {"field": "hi"}}},
         {"mark": {"type": "tick", "color": "#111", "size": 6, "thickness": 1.2}, "encoding": {"xOffset": {"field": "g", "type": "nominal", "sort": ["f", "m"]}, "y": {"field": "lo", "type": "quantitative"}}},
         {"mark": {"type": "tick", "color": "#111", "size": 6, "thickness": 1.2}, "encoding": {"xOffset": {"field": "g", "type": "nominal", "sort": ["f", "m"]}, "y": {"field": "hi", "type": "quantitative"}}}
       ]},
      {"data": {"values": [
        {"p":"G₀","g":"f","v":54.9,"o":1},{"p":"G₀","g":"f","v":72.7,"o":2},{"p":"G₀","g":"m","v":72.7,"o":3},{"p":"G₀","g":"m","v":54.9,"o":4},
        {"p":"G₁","g":"f","v":69.5,"o":1},{"p":"G₁","g":"f","v":72.7,"o":2},{"p":"G₁","g":"m","v":72.7,"o":3},{"p":"G₁","g":"m","v":69.5,"o":4},
        {"p":"S/G₂/M","g":"f","v":54.9,"o":1},{"p":"S/G₂/M","g":"f","v":72.7,"o":2},{"p":"S/G₂/M","g":"m","v":72.7,"o":3},{"p":"S/G₂/M","g":"m","v":54.9,"o":4}]},
       "mark": {"type": "line", "color": "#000", "strokeWidth": 1.5},
       "encoding": {"xOffset": {"field": "g", "type": "nominal", "sort": ["f", "m"]}, "detail": {"field": "p"}, "order": {"field": "o"}}},
      {"data": {"values": [{"p":"G₀","v":73.5,"t":"0.16"},{"p":"G₁","v":73.5,"t":"0.2"},{"p":"S/G₂/M","v":73.5,"t":"0.3"}]},
       "mark": {"type": "text", "fontSize": 11.5, "color": "#333", "baseline": "bottom", "dy": -2},
       "encoding": {"text": {"field": "t"}}}
    ]
  }
  ]
}
]
}
]
},
{
"spacing": 66,
"align": "none",
"resolve": {"scale": {"fill": "independent", "stroke": "independent", "color": "independent"}, "legend": {"fill": "independent", "stroke": "independent", "color": "independent"}},
"concat": [
{
  "title": {"text": "F", "fontSize": 22, "fontWeight": "bold", "anchor": "start", "frame": "bounds", "baseline": "alphabetic", "offset": -20, "dx": 37},
  "data": {"values": [
    {"r":"1","c":"LSK CD48⁻","k":"frame","x":0,"x2":100,"y":0,"y2":100},
    {"r":"1","c":"LSK CD48⁻","k":"ring","x":17,"x2":36,"y":16,"y2":65},
    {"r":"1","c":"LSK CD48⁻","k":"ring","x":19,"x2":35,"y":19,"y2":58},
    {"r":"1","c":"LSK CD48⁻","k":"ring","x":37,"x2":47,"y":56,"y2":63},
    {"r":"1","c":"LSK CD48⁻","k":"core","x":20,"x2":34,"y":17,"y2":42},
    {"r":"1","c":"LSK CD48⁻","k":"wring","x":23,"x2":31,"y":20,"y2":36},
    {"r":"1","c":"LSK CD48⁻","k":"qline","x":35.6,"x2":35.6,"y":0,"y2":100},
    {"r":"1","c":"LSK CD48⁻","k":"qline","x":0,"x2":100,"y":45,"y2":45},
    {"r":"1","c":"LSK CD48⁻","k":"numL","x":4,"y":90,"t":"16"},
    {"r":"1","c":"LSK CD48⁻","k":"numR","x":96,"y":90,"t":"8"},
    {"r":"1","c":"LSK CD48⁻","k":"numL","x":4,"y":9,"t":"75"},
    {"r":"2","c":"LSK CD48⁻","k":"frame","x":0,"x2":100,"y":0,"y2":100},
    {"r":"2","c":"LSK CD48⁻","k":"ring","x":18,"x2":36,"y":26,"y2":62},
    {"r":"2","c":"LSK CD48⁻","k":"ring","x":20,"x2":35,"y":29,"y2":55},
    {"r":"2","c":"LSK CD48⁻","k":"core","x":21,"x2":34,"y":27,"y2":45},
    {"r":"2","c":"LSK CD48⁻","k":"wring","x":24,"x2":31,"y":30,"y2":40},
    {"r":"2","c":"LSK CD48⁻","k":"qline","x":35.6,"x2":35.6,"y":0,"y2":100},
    {"r":"2","c":"LSK CD48⁻","k":"qline","x":0,"x2":100,"y":44.7,"y2":44.7},
    {"r":"2","c":"LSK CD48⁻","k":"numL","x":4,"y":90,"t":"7"},
    {"r":"2","c":"LSK CD48⁻","k":"numR","x":96,"y":90,"t":"3"},
    {"r":"2","c":"LSK CD48⁻","k":"numL","x":4,"y":9,"t":"90"},
    {"r":"2","c":"LSK CD48⁻","k":"ylab","x":-18,"y":0,"t":"Ki67"},
    {"r":"2","c":"LSK CD48⁻","k":"arrow","x":-18,"x2":-18,"y":42,"y2":88},
    {"r":"2","c":"LSK CD48⁻","k":"headU","x":-18,"y":90},
    {"r":"2","c":"LSK CD48⁻","k":"xlab","x":0,"y":-18,"t":"Hoechst"},
    {"r":"2","c":"LSK CD48⁻","k":"arrow","x":62,"x2":96,"y":-18,"y2":-18},
    {"r":"2","c":"LSK CD48⁻","k":"headR","x":98,"y":-18},
    {"r":"2","c":"LSK CD48⁻","k":"pad","x":-70,"y":50,"t":"."},
    {"r":"1","c":"LSK CD48⁺","k":"frame","x":0,"x2":100,"y":0,"y2":100},
    {"r":"1","c":"LSK CD48⁺","k":"ring","x":20,"x2":35,"y":22,"y2":80},
    {"r":"1","c":"LSK CD48⁺","k":"ring","x":22,"x2":34,"y":25,"y2":72},
    {"r":"1","c":"LSK CD48⁺","k":"ring","x":33,"x2":50,"y":52,"y2":80},
    {"r":"1","c":"LSK CD48⁺","k":"ring","x":36,"x2":47,"y":56,"y2":76},
    {"r":"1","c":"LSK CD48⁺","k":"ring","x":39,"x2":45,"y":60,"y2":72},
    {"r":"1","c":"LSK CD48⁺","k":"core","x":22,"x2":33,"y":24,"y2":62},
    {"r":"1","c":"LSK CD48⁺","k":"wring","x":25,"x2":30,"y":28,"y2":50},
    {"r":"1","c":"LSK CD48⁺","k":"qline","x":34.6,"x2":34.6,"y":0,"y2":100},
    {"r":"1","c":"LSK CD48⁺","k":"qline","x":0,"x2":100,"y":45,"y2":45},
    {"r":"1","c":"LSK CD48⁺","k":"numL","x":4,"y":90,"t":"34"},
    {"r":"1","c":"LSK CD48⁺","k":"numR","x":96,"y":90,"t":"20"},
    {"r":"1","c":"LSK CD48⁺","k":"numL","x":4,"y":9,"t":"42"},
    {"r":"1","c":"LSK CD48⁺","k":"rlabR","x":115,"y":50,"t":"Phf6f/Y"},
    {"r":"2","c":"LSK CD48⁺","k":"frame","x":0,"x2":100,"y":0,"y2":100},
    {"r":"2","c":"LSK CD48⁺","k":"ring","x":20,"x2":35,"y":18,"y2":68},
    {"r":"2","c":"LSK CD48⁺","k":"ring","x":22,"x2":34,"y":21,"y2":60},
    {"r":"2","c":"LSK CD48⁺","k":"ring","x":33,"x2":51,"y":46,"y2":68},
    {"r":"2","c":"LSK CD48⁺","k":"ring","x":36,"x2":48,"y":50,"y2":64},
    {"r":"2","c":"LSK CD48⁺","k":"ring","x":39,"x2":45,"y":54,"y2":60},
    {"r":"2","c":"LSK CD48⁺","k":"core","x":22,"x2":33,"y":20,"y2":52},
    {"r":"2","c":"LSK CD48⁺","k":"wring","x":25,"x2":30,"y":24,"y2":42},
    {"r":"2","c":"LSK CD48⁺","k":"qline","x":34.6,"x2":34.6,"y":0,"y2":100},
    {"r":"2","c":"LSK CD48⁺","k":"qline","x":0,"x2":100,"y":44.7,"y2":44.7},
    {"r":"2","c":"LSK CD48⁺","k":"numL","x":4,"y":90,"t":"17"},
    {"r":"2","c":"LSK CD48⁺","k":"numR","x":96,"y":90,"t":"13"},
    {"r":"2","c":"LSK CD48⁺","k":"numL","x":4,"y":9,"t":"70"},
    {"r":"2","c":"LSK CD48⁺","k":"rlabR","x":115,"y":50,"t":"Phf6-/Y"}
  ]},
  "facet": {
    "column": {"field": "c", "type": "nominal", "sort": ["LSK CD48⁻", "LSK CD48⁺"], "title": null, "header": {"labelPadding": 11, "labelFontSize": 14}},
    "row": {"field": "r", "type": "nominal", "sort": ["1", "2"], "title": null, "header": null}
  },
  "spacing": {"row": 12, "column": 24},
  "bounds": "flush",
  "resolve": {"axis": {"x": "independent", "y": "independent"}},
  "spec": {
    "width": 104, "height": 103,
    "layer": [
      {"transform":[{"filter":"datum.k=='ring'"}],"mark":{"type":"rect","fill":"#ffffff","stroke":"#111111","strokeWidth":1,"cornerRadius":6},"encoding":{"x":{"field":"x","type":"quantitative","scale":{"domain":[0,100],"nice":false,"zero":false},"axis":null},"x2":{"field":"x2"},"y":{"field":"y","type":"quantitative","scale":{"domain":[0,100],"nice":false,"zero":false},"axis":null},"y2":{"field":"y2"}}},
      {"transform":[{"filter":"datum.k=='core'"}],"mark":{"type":"rect","fill":"#222222","cornerRadius":5},"encoding":{"x":{"field":"x","type":"quantitative","axis":null},"x2":{"field":"x2"},"y":{"field":"y","type":"quantitative","axis":null},"y2":{"field":"y2"}}},
      {"transform":[{"filter":"datum.k=='wring'"}],"mark":{"type":"rect","fill":"transparent","stroke":"#ffffff","strokeWidth":0.8,"cornerRadius":4},"encoding":{"x":{"field":"x","type":"quantitative","axis":null},"x2":{"field":"x2"},"y":{"field":"y","type":"quantitative","axis":null},"y2":{"field":"y2"}}},
      {"transform":[{"filter":"datum.k=='qline'"}],"mark":{"type":"rule","color":"#000","strokeWidth":1.5},"encoding":{"x":{"field":"x","type":"quantitative","axis":null},"x2":{"field":"x2"},"y":{"field":"y","type":"quantitative","axis":null},"y2":{"field":"y2"}}},
      {"transform":[{"filter":"datum.k=='frame'"}],"mark":{"type":"rect","fill":"transparent","stroke":"#000000","strokeWidth":1.2},"encoding":{"x":{"field":"x","type":"quantitative","scale":{"domain":[0,100],"nice":false,"zero":false},"axis":{"labels":false,"domain":false,"ticks":true,"tickSize":3,"tickWidth":1,"tickCount":6,"title":null,"grid":false,"tickColor":"#333"}},"x2":{"field":"x2"},"y":{"field":"y","type":"quantitative","scale":{"domain":[0,100],"nice":false,"zero":false},"axis":{"labels":false,"domain":false,"ticks":true,"tickSize":3,"tickWidth":1,"tickCount":6,"title":null,"grid":false,"tickColor":"#333"}},"y2":{"field":"y2"}}},
      {"transform":[{"filter":"datum.k=='numL'"}],"mark":{"type":"text","align":"left","baseline":"middle","fontSize":13},"encoding":{"x":{"field":"x","type":"quantitative","axis":null},"y":{"field":"y","type":"quantitative","axis":null},"text":{"field":"t"}}},
      {"transform":[{"filter":"datum.k=='numR'"}],"mark":{"type":"text","align":"right","baseline":"middle","fontSize":13},"encoding":{"x":{"field":"x","type":"quantitative","axis":null},"y":{"field":"y","type":"quantitative","axis":null},"text":{"field":"t"}}},
      {"transform":[{"filter":"datum.k=='rlabR'"}],"mark":{"type":"text","angle":90,"align":"center","baseline":"middle","fontSize":14,"fontStyle":"italic"},"encoding":{"x":{"field":"x","type":"quantitative","axis":null},"y":{"field":"y","type":"quantitative","axis":null},"text":{"field":"t"}}},
      {"transform":[{"filter":"datum.k=='ylab'"}],"mark":{"type":"text","angle":270,"align":"left","baseline":"middle","fontSize":14},"encoding":{"x":{"field":"x","type":"quantitative","axis":null},"y":{"field":"y","type":"quantitative","axis":null},"text":{"field":"t"}}},
      {"transform":[{"filter":"datum.k=='xlab'"}],"mark":{"type":"text","align":"left","baseline":"middle","fontSize":14},"encoding":{"x":{"field":"x","type":"quantitative","axis":null},"y":{"field":"y","type":"quantitative","axis":null},"text":{"field":"t"}}},
      {"transform":[{"filter":"datum.k=='pad'"}],"mark":{"type":"text","align":"left","baseline":"middle","fontSize":14,"opacity":0},"encoding":{"x":{"field":"x","type":"quantitative","axis":null},"y":{"field":"y","type":"quantitative","axis":null},"text":{"field":"t"}}},
      {"transform":[{"filter":"datum.k=='arrow'"}],"mark":{"type":"rule","color":"#000","strokeWidth":2},"encoding":{"x":{"field":"x","type":"quantitative","axis":null},"x2":{"field":"x2"},"y":{"field":"y","type":"quantitative","axis":null},"y2":{"field":"y2"}}},
      {"transform":[{"filter":"datum.k=='headU'"}],"mark":{"type":"point","shape":"triangle-up","filled":true,"color":"#000","size":90,"opacity":1},"encoding":{"x":{"field":"x","type":"quantitative","axis":null},"y":{"field":"y","type":"quantitative","axis":null}}},
      {"transform":[{"filter":"datum.k=='headR'"}],"mark":{"type":"point","shape":"triangle-right","filled":true,"color":"#000","size":90,"opacity":1},"encoding":{"x":{"field":"x","type":"quantitative","axis":null},"y":{"field":"y","type":"quantitative","axis":null}}}
    ]
  }
},
{
  "title": {"text": "G", "fontSize": 22, "fontWeight": "bold", "anchor": "start", "frame": "bounds", "baseline": "alphabetic", "offset": -21, "dx": -8},
  "spacing": 0,
  "resolve": {"scale": {"fill": "independent", "stroke": "independent", "color": "independent"}, "legend": {"fill": "independent", "stroke": "independent", "color": "independent"}},
  "hconcat": [
  {
    "width": 141, "height": 164,
    "title": {"text": "LSK CD48⁻", "fontSize": 14, "fontWeight": "normal", "anchor": "middle", "frame": "group", "baseline": "alphabetic", "offset": 6},
    "encoding": {
      "x": {"field": "p", "type": "nominal", "sort": ["G₀", "G₁", "S/G₂/M"], "scale": {"paddingInner": 0, "paddingOuter": 0.16}, "axis": {"title": null, "labelAngle": 0, "labelFontSize": 14, "labelPadding": 4}},
      "y": {"field": "v", "type": "quantitative", "scale": {"domain": [0, 100], "nice": false}, "axis": {"values": [0, 20, 40, 60, 80, 100], "title": "Percent (%)"}}
    },
    "layer": [
      {"data": {"values": [{"p":"G₀","g":"f","m":73.3},{"p":"G₀","g":"m","m":86.4},{"p":"G₁","g":"f","m":15.6},{"p":"G₁","g":"m","m":8.5},{"p":"S/G₂/M","g":"f","m":8.5},{"p":"S/G₂/M","g":"m","m":3.4}]},
       "mark": {"type": "bar", "strokeWidth": 1.5},
       "encoding": {"xOffset": {"field": "g", "type": "nominal", "sort": ["f", "m"], "scale": {"paddingInner": 0.3, "paddingOuter": 0.15}}, "y": {"field": "m", "type": "quantitative"},
         "fill": {"field": "g", "type": "nominal", "scale": {"domain": ["f", "m"], "range": ["#f0c9f4", "#b456cc"]}, "legend": {"orient": "none", "legendX": 22, "legendY": 199, "title": null, "direction": "vertical", "symbolType": "M-1,-0.6H1V0.6H-1Z", "symbolSize": 484, "symbolStrokeWidth": 1.5, "labelExpr": "datum.label == 'f' ? 'Phf6f/Y' : 'Phf6-/Y'", "labelFontSize": 14, "labelFontStyle": "italic", "rowPadding": 0, "labelOffset": 6}},
         "stroke": {"field": "g", "type": "nominal", "scale": {"domain": ["f", "m"], "range": ["#c866d8", "#7e2196"]}, "legend": {"orient": "none", "legendX": 22, "legendY": 199, "title": null, "direction": "vertical", "symbolType": "M-1,-0.6H1V0.6H-1Z", "symbolSize": 484, "symbolStrokeWidth": 1.5, "labelExpr": "datum.label == 'f' ? 'Phf6f/Y' : 'Phf6-/Y'", "labelFontSize": 14, "labelFontStyle": "italic", "rowPadding": 0, "labelOffset": 6}}}},
      {"data": {"values": [
        {"p":"G₀","g":"f","v":80.0},{"p":"G₀","g":"f","v":78.5},{"p":"G₀","g":"f","v":74.0},{"p":"G₀","g":"f","v":70.0},{"p":"G₀","g":"f","v":65.8},
        {"p":"G₀","g":"m","v":91.5},{"p":"G₀","g":"m","v":90.5},{"p":"G₀","g":"m","v":89.0},{"p":"G₀","g":"m","v":86.0},{"p":"G₀","g":"m","v":82.4},
        {"p":"G₁","g":"f","v":23.1},{"p":"G₁","g":"f","v":17.6},{"p":"G₁","g":"f","v":15.2},{"p":"G₁","g":"f","v":14.0},{"p":"G₁","g":"f","v":13.6},
        {"p":"G₁","g":"m","v":13.2},{"p":"G₁","g":"m","v":10.5},{"p":"G₁","g":"m","v":8.5},{"p":"G₁","g":"m","v":7.1},{"p":"G₁","g":"m","v":6.3},
        {"p":"S/G₂/M","g":"f","v":12.6},{"p":"S/G₂/M","g":"f","v":9.5},{"p":"S/G₂/M","g":"f","v":7.9},{"p":"S/G₂/M","g":"f","v":7.1},{"p":"S/G₂/M","g":"f","v":5.9},
        {"p":"S/G₂/M","g":"m","v":5.9},{"p":"S/G₂/M","g":"m","v":5.5},{"p":"S/G₂/M","g":"m","v":3.8},{"p":"S/G₂/M","g":"m","v":2.4},{"p":"S/G₂/M","g":"m","v":1.8}]},
       "mark": {"type": "point", "filled": true, "size": 34, "opacity": 1},
       "encoding": {"xOffset": {"field": "g", "type": "nominal", "sort": ["f", "m"]}, "color": {"field": "g", "type": "nominal", "scale": {"domain": ["f", "m"], "range": ["#c878d8", "#8e24aa"]}, "legend": null}}},
      {"data": {"values": [{"p":"G₀","g":"f","lo":68.2,"hi":78.7},{"p":"G₀","g":"m","lo":82.4,"hi":90.1},{"p":"G₁","g":"f","lo":10.9,"hi":20.2},{"p":"G₁","g":"m","lo":4.3,"hi":11.1},{"p":"S/G₂/M","g":"f","lo":5.1,"hi":10.5},{"p":"S/G₂/M","g":"m","lo":1.8,"hi":4.8}]},
       "layer": [
         {"mark": {"type": "rule", "color": "#111", "strokeWidth": 1.2}, "encoding": {"xOffset": {"field": "g", "type": "nominal", "sort": ["f", "m"]}, "y": {"field": "lo", "type": "quantitative"}, "y2": {"field": "hi"}}},
         {"mark": {"type": "tick", "color": "#111", "size": 6, "thickness": 1.2}, "encoding": {"xOffset": {"field": "g", "type": "nominal", "sort": ["f", "m"]}, "y": {"field": "lo", "type": "quantitative"}}},
         {"mark": {"type": "tick", "color": "#111", "size": 6, "thickness": 1.2}, "encoding": {"xOffset": {"field": "g", "type": "nominal", "sort": ["f", "m"]}, "y": {"field": "hi", "type": "quantitative"}}}
       ]},
      {"data": {"values": [
        {"p":"G₀","g":"f","v":94.5,"o":1},{"p":"G₀","g":"f","v":95,"o":2},{"p":"G₀","g":"m","v":95,"o":3},{"p":"G₀","g":"m","v":94.5,"o":4},
        {"p":"G₁","g":"f","v":91.5,"o":1},{"p":"G₁","g":"f","v":95,"o":2},{"p":"G₁","g":"m","v":95,"o":3},{"p":"G₁","g":"m","v":91.5,"o":4},
        {"p":"S/G₂/M","g":"f","v":91.5,"o":1},{"p":"S/G₂/M","g":"f","v":95,"o":2},{"p":"S/G₂/M","g":"m","v":95,"o":3},{"p":"S/G₂/M","g":"m","v":91.5,"o":4}]},
       "mark": {"type": "line", "color": "#000", "strokeWidth": 1.5},
       "encoding": {"xOffset": {"field": "g", "type": "nominal", "sort": ["f", "m"]}, "detail": {"field": "p"}, "order": {"field": "o"}}},
      {"data": {"values": [{"p":"G₀","v":96,"t":"0.0035"},{"p":"G₁","v":96,"t":"0.02"},{"p":"S/G₂/M","v":96,"t":"0.003"}]},
       "mark": {"type": "text", "fontSize": 11.5, "color": "#333", "baseline": "bottom", "dy": -2},
       "encoding": {"text": {"field": "t"}}}
    ]
  },
  {
    "width": 129, "height": 164,
    "title": {"text": "LSK CD48⁺", "fontSize": 14, "fontWeight": "normal", "anchor": "middle", "frame": "group", "baseline": "alphabetic", "offset": 6},
    "encoding": {
      "x": {"field": "p", "type": "nominal", "sort": ["G₀", "G₁", "S/G₂/M"], "scale": {"paddingInner": 0, "paddingOuter": 0.095}, "axis": {"title": null, "labelAngle": 0, "labelFontSize": 14, "labelPadding": 4}},
      "y": {"field": "v", "type": "quantitative", "scale": {"domain": [0, 100], "nice": false}, "axis": {"values": [0, 20, 40, 60, 80, 100], "title": "Percent (%)"}}
    },
    "layer": [
      {"data": {"values": [{"p":"G₀","g":"f","m":49.0},{"p":"G₀","g":"m","m":64.8},{"p":"G₁","g":"f","m":23.7},{"p":"G₁","g":"m","m":16.2},{"p":"S/G₂/M","g":"f","m":19.6},{"p":"S/G₂/M","g":"m","m":13.6}]},
       "mark": {"type": "bar", "strokeWidth": 1.5},
       "encoding": {"xOffset": {"field": "g", "type": "nominal", "sort": ["f", "m"], "scale": {"paddingInner": 0.3, "paddingOuter": 0.15}}, "y": {"field": "m", "type": "quantitative"},
         "fill": {"field": "g", "type": "nominal", "scale": {"domain": ["f", "m"], "range": ["#fdc9dd", "#f26c96"]}, "legend": {"orient": "none", "legendX": 22, "legendY": 199, "title": null, "direction": "vertical", "symbolType": "M-1,-0.6H1V0.6H-1Z", "symbolSize": 484, "symbolStrokeWidth": 1.5, "labelExpr": "datum.label == 'f' ? 'Phf6f/Y' : 'Phf6-/Y'", "labelFontSize": 14, "labelFontStyle": "italic", "rowPadding": 0, "labelOffset": 6}},
         "stroke": {"field": "g", "type": "nominal", "scale": {"domain": ["f", "m"], "range": ["#f27aa2", "#c4124f"]}, "legend": {"orient": "none", "legendX": 22, "legendY": 199, "title": null, "direction": "vertical", "symbolType": "M-1,-0.6H1V0.6H-1Z", "symbolSize": 484, "symbolStrokeWidth": 1.5, "labelExpr": "datum.label == 'f' ? 'Phf6f/Y' : 'Phf6-/Y'", "labelFontSize": 14, "labelFontStyle": "italic", "rowPadding": 0, "labelOffset": 6}}}},
      {"data": {"values": [
        {"p":"G₀","g":"f","v":54.5},{"p":"G₀","g":"f","v":53.0},{"p":"G₀","g":"f","v":49.0},{"p":"G₀","g":"f","v":46.0},{"p":"G₀","g":"f","v":35.8},
        {"p":"G₀","g":"m","v":75.7},{"p":"G₀","g":"m","v":74.3},{"p":"G₀","g":"m","v":73.0},{"p":"G₀","g":"m","v":51.0},{"p":"G₀","g":"m","v":49.0},
        {"p":"G₁","g":"f","v":40.9},{"p":"G₁","g":"f","v":22.7},{"p":"G₁","g":"f","v":20.6},{"p":"G₁","g":"f","v":19.6},{"p":"G₁","g":"f","v":18.6},
        {"p":"G₁","g":"m","v":30.8},{"p":"G₁","g":"m","v":29.1},{"p":"G₁","g":"m","v":9.1},{"p":"G₁","g":"m","v":7.9},{"p":"G₁","g":"m","v":7.1},
        {"p":"S/G₂/M","g":"f","v":21.7},{"p":"S/G₂/M","g":"f","v":20.6},{"p":"S/G₂/M","g":"f","v":19.6},{"p":"S/G₂/M","g":"f","v":18.6},{"p":"S/G₂/M","g":"f","v":17.6},
        {"p":"S/G₂/M","g":"m","v":19.2},{"p":"S/G₂/M","g":"m","v":17.6},{"p":"S/G₂/M","g":"m","v":12.6},{"p":"S/G₂/M","g":"m","v":10.5},{"p":"S/G₂/M","g":"m","v":9.5}]},
       "mark": {"type": "point", "filled": true, "size": 34, "opacity": 1},
       "encoding": {"xOffset": {"field": "g", "type": "nominal", "sort": ["f", "m"]}, "color": {"field": "g", "type": "nominal", "scale": {"domain": ["f", "m"], "range": ["#f47ba5", "#c8104d"]}, "legend": null}}},
      {"data": {"values": [{"p":"G₀","g":"f","lo":42.3,"hi":57.1},{"p":"G₀","g":"m","lo":51.6,"hi":77.9},{"p":"G₁","g":"f","lo":14.4,"hi":33.4},{"p":"G₁","g":"m","lo":4.3,"hi":28.7},{"p":"S/G₂/M","g":"f","lo":17.6,"hi":22.1},{"p":"S/G₂/M","g":"m","lo":9.5,"hi":18.0}]},
       "layer": [
         {"mark": {"type": "rule", "color": "#111", "strokeWidth": 1.2}, "encoding": {"xOffset": {"field": "g", "type": "nominal", "sort": ["f", "m"]}, "y": {"field": "lo", "type": "quantitative"}, "y2": {"field": "hi"}}},
         {"mark": {"type": "tick", "color": "#111", "size": 6, "thickness": 1.2}, "encoding": {"xOffset": {"field": "g", "type": "nominal", "sort": ["f", "m"]}, "y": {"field": "lo", "type": "quantitative"}}},
         {"mark": {"type": "tick", "color": "#111", "size": 6, "thickness": 1.2}, "encoding": {"xOffset": {"field": "g", "type": "nominal", "sort": ["f", "m"]}, "y": {"field": "hi", "type": "quantitative"}}}
       ]},
      {"data": {"values": [
        {"p":"G₀","g":"f","v":92.5,"o":1},{"p":"G₀","g":"f","v":95,"o":2},{"p":"G₀","g":"m","v":95,"o":3},{"p":"G₀","g":"m","v":92.5,"o":4},
        {"p":"G₁","g":"f","v":92.5,"o":1},{"p":"G₁","g":"f","v":95,"o":2},{"p":"G₁","g":"m","v":95,"o":3},{"p":"G₁","g":"m","v":92.5,"o":4},
        {"p":"S/G₂/M","g":"f","v":92.5,"o":1},{"p":"S/G₂/M","g":"f","v":95,"o":2},{"p":"S/G₂/M","g":"m","v":95,"o":3},{"p":"S/G₂/M","g":"m","v":92.5,"o":4}]},
       "mark": {"type": "line", "color": "#000", "strokeWidth": 1.5},
       "encoding": {"xOffset": {"field": "g", "type": "nominal", "sort": ["f", "m"]}, "detail": {"field": "p"}, "order": {"field": "o"}}},
      {"data": {"values": [{"p":"G₀","v":96,"t":"0.1"},{"p":"G₁","v":96,"t":"0.3"},{"p":"S/G₂/M","v":96,"t":"0.013"}]},
       "mark": {"type": "text", "fontSize": 11.5, "color": "#333", "baseline": "bottom", "dy": -2},
       "encoding": {"text": {"field": "t"}}}
    ]
  }
  ]
}
]
}
]
}
